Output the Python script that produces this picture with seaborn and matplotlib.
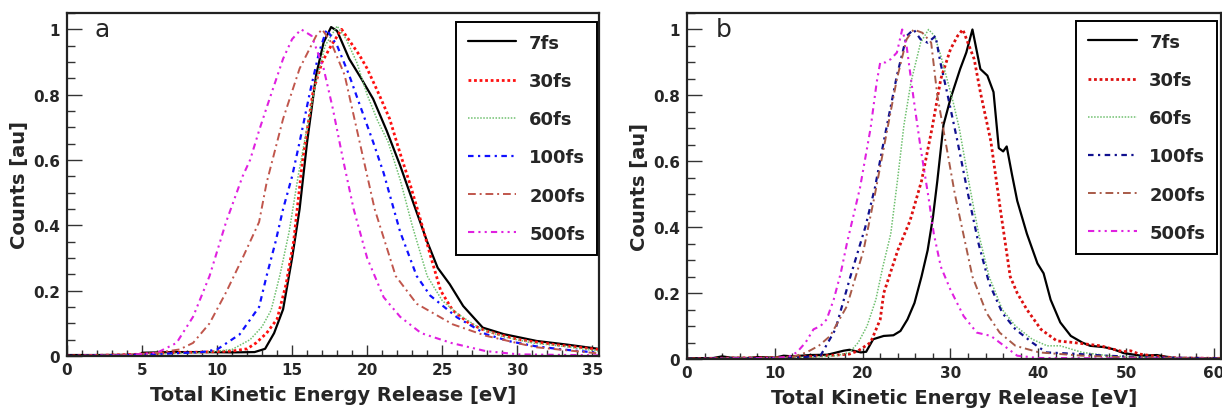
import numpy as np
import pandas as pd
import matplotlib
matplotlib.use("Agg")
import matplotlib.pyplot as plt
from matplotlib.ticker import MultipleLocator, FuncFormatter
import seaborn as sns

# ---------------- data ----------------
labels = ["7fs", "30fs", "60fs", "100fs", "200fs", "500fs"]

# panel a
a_7fs_x = [0, 2, 4.9, 5.0, 7, 9, 11, 12.5, 13.2, 13.8, 14.4, 15.0, 15.5, 16.0, 16.6, 17.1, 17.6, 18.0, 18.8, 19.6, 20.4, 21.3, 22.2, 23.3, 24.0, 24.7, 25.5, 26.4, 27.7, 29.1, 31.3, 33.3, 35.4]
a_7fs_y = [0.003, 0.003, 0.004, 0.010, 0.012, 0.012, 0.011, 0.012, 0.022, 0.07, 0.143, 0.30, 0.45, 0.655, 0.86, 0.96, 1.007, 0.995, 0.91, 0.85, 0.787, 0.69, 0.583, 0.44, 0.35, 0.27, 0.22, 0.153, 0.087, 0.067, 0.046, 0.035, 0.022]
a_30fs_x = [0, 4, 7, 9, 11, 12, 12.6, 13.3, 14.0, 14.6, 15.1, 15.7, 16.4, 17.0, 17.6, 18.3, 18.9, 19.5, 20.0, 20.8, 21.5, 22.2, 22.9, 23.6, 24.2, 24.9, 25.7, 26.8, 27.9, 30.1, 32.5, 35.4]
a_30fs_y = [0.0, 0.004, 0.01, 0.012, 0.015, 0.022, 0.04, 0.07, 0.113, 0.22, 0.35, 0.6, 0.81, 0.9, 0.95, 1.0, 0.96, 0.92, 0.88, 0.80, 0.726, 0.62, 0.52, 0.41, 0.31, 0.20, 0.14, 0.10, 0.077, 0.05, 0.035, 0.02]
a_60fs_x = [0, 4, 7, 9, 11, 12.2, 13.0, 13.6, 14.2, 14.8, 15.4, 16.0, 16.6, 17.2, 18.0, 18.6, 19.3, 20.0, 20.7, 21.4, 22.2, 23.0, 24.0, 25.0, 26.0, 27.5, 29.0, 31.0, 33.0, 35.4]
a_60fs_y = [0.0, 0.003, 0.008, 0.01, 0.02, 0.05, 0.09, 0.14, 0.25, 0.38, 0.55, 0.7, 0.84, 0.95, 1.01, 0.97, 0.9, 0.8, 0.72, 0.655, 0.54, 0.40, 0.245, 0.17, 0.13, 0.085, 0.06, 0.04, 0.03, 0.015]
a_100fs_x = [0, 4, 7, 9, 10, 11.5, 12.8, 13.3, 13.9, 14.4, 15.0, 15.5, 16.2, 16.8, 17.3, 18.0, 18.8, 19.5, 20.4, 21.1, 22.2, 23.3, 24.2, 26.0, 27.9, 29.5, 31.2, 33.0, 35.4]
a_100fs_y = [0.0, 0.003, 0.008, 0.012, 0.02, 0.066, 0.15, 0.245, 0.35, 0.45, 0.55, 0.655, 0.81, 0.93, 1.0, 0.95, 0.86, 0.77, 0.655, 0.56, 0.38, 0.245, 0.185, 0.118, 0.067, 0.045, 0.03, 0.02, 0.01]
a_200fs_x = [0, 4, 6, 7.5, 8.4, 9.5, 10.6, 11.7, 12.2, 12.8, 13.3, 14.4, 15.5, 16.6, 17.0, 17.6, 18.5, 19.5, 20.5, 21.9, 23.3, 25.7, 27.9, 31.2, 35.4]
a_200fs_y = [0.0, 0.003, 0.01, 0.02, 0.04, 0.1, 0.195, 0.3, 0.35, 0.41, 0.53, 0.726, 0.88, 0.98, 1.0, 0.96, 0.86, 0.655, 0.45, 0.245, 0.16, 0.097, 0.062, 0.027, 0.008]
a_500fs_x = [0, 4, 6, 7.3, 8.4, 9.5, 10.6, 11.7, 12.2, 12.8, 13.3, 14.4, 15.0, 15.6, 16.3, 17.1, 17.7, 18.4, 19.1, 20.0, 21.1, 22.2, 23.6, 25.6, 27.9, 30.1, 35.4]
a_500fs_y = [0.0, 0.002, 0.01, 0.04, 0.12, 0.245, 0.41, 0.55, 0.6, 0.69, 0.76, 0.91, 0.97, 1.0, 0.98, 0.88, 0.76, 0.6, 0.45, 0.3, 0.18, 0.12, 0.07, 0.04, 0.015, 0.005, 0.002]

# panel b
b_7fs_x = [0, 3, 4, 5, 7, 8, 10, 11, 12, 14, 16, 17.8, 18.5, 19.8, 20.4, 21.2, 22.4, 23.5, 24.3, 25.1, 25.9, 26.7, 27.4, 28.0, 28.5, 29.2, 30.0, 31.1, 31.8, 32.5, 33.4, 34.2, 34.9, 35.5, 36.0, 36.4, 37.0, 37.6, 38.7, 39.9, 40.6, 41.4, 42.5, 43.7, 45.0, 45.9, 47.5, 48.5, 49.7, 51.7, 53.5, 55.4, 58, 60.8]
b_7fs_y = [0.002, 0.003, 0.008, 0.004, 0.003, 0.006, 0.004, 0.01, 0.008, 0.012, 0.013, 0.025, 0.028, 0.02, 0.022, 0.06, 0.07, 0.072, 0.085, 0.12, 0.17, 0.25, 0.33, 0.43, 0.54, 0.71, 0.79, 0.88, 0.93, 1.0, 0.88, 0.86, 0.81, 0.64, 0.63, 0.645, 0.56, 0.48, 0.38, 0.29, 0.26, 0.18, 0.111, 0.07, 0.05, 0.04, 0.036, 0.03, 0.018, 0.01, 0.012, 0.003, 0.003, 0.002]
b_30fs_x = [0, 5, 10, 14, 17, 18.5, 19.5, 20.9, 22.0, 22.4, 24.0, 25.4, 26.7, 27.9, 28.9, 30.0, 30.8, 31.4, 32.7, 33.4, 34.6, 35.7, 36.8, 37.6, 38.7, 40.3, 42.1, 44.0, 47.1, 48.5, 49.7, 50.5, 51.5, 53.5, 56, 60.8]
b_30fs_y = [0.0, 0.003, 0.004, 0.008, 0.012, 0.015, 0.025, 0.05, 0.12, 0.2, 0.33, 0.42, 0.54, 0.70, 0.85, 0.94, 0.98, 1.0, 0.91, 0.81, 0.66, 0.45, 0.25, 0.2, 0.15, 0.09, 0.055, 0.05, 0.04, 0.03, 0.022, 0.025, 0.015, 0.008, 0.003, 0.002]
b_60fs_x = [0, 5, 10, 14, 17, 18.5, 19.5, 20.5, 21.5, 22.3, 23.2, 24.0, 24.7, 25.5, 26.6, 27.5, 28.2, 28.9, 29.6, 30.3, 31.0, 32.0, 33.2, 34.4, 35.9, 37.4, 39.3, 41.0, 42.5, 45, 48, 52, 60.8]
b_60fs_y = [0.0, 0.002, 0.004, 0.005, 0.01, 0.02, 0.05, 0.1, 0.18, 0.28, 0.38, 0.55, 0.71, 0.84, 0.96, 1.0, 0.98, 0.92, 0.85, 0.78, 0.70, 0.55, 0.38, 0.25, 0.15, 0.1, 0.06, 0.04, 0.04, 0.02, 0.01, 0.005, 0.002]
b_100fs_x = [0, 5, 10, 13, 15.2, 16.9, 18.6, 20.3, 21.4, 22.4, 23.9, 25.0, 25.8, 26.6, 27.4, 28.3, 28.85, 29.6, 30.8, 32.0, 33.2, 34.4, 35.9, 37.4, 39.3, 40.9, 44.0, 47.8, 52, 60.8]
b_100fs_y = [0.0, 0.002, 0.003, 0.005, 0.01, 0.09, 0.25, 0.40, 0.52, 0.66, 0.86, 0.98, 1.0, 0.97, 0.96, 0.98, 0.9, 0.81, 0.66, 0.5, 0.35, 0.23, 0.14, 0.09, 0.05, 0.02, 0.016, 0.01, 0.005, 0.002]
b_200fs_x = [0, 5, 10, 12, 13.6, 15, 16.3, 18.2, 20.1, 21.4, 22.4, 23.9, 25.0, 25.8, 26.8, 27.8, 28.5, 29.5, 30.5, 31.3, 32.5, 34.1, 35.6, 37.4, 40.1, 45, 50, 60.8]
b_200fs_y = [0.0, 0.002, 0.004, 0.006, 0.02, 0.04, 0.07, 0.16, 0.33, 0.5, 0.64, 0.85, 0.97, 1.0, 0.99, 0.96, 0.8, 0.65, 0.5, 0.4, 0.25, 0.14, 0.08, 0.04, 0.02, 0.01, 0.005, 0.002]
b_500fs_x = [0, 5, 10, 11.5, 12.5, 13.5, 14.4, 15.2, 15.9, 16.7, 17.5, 18.2, 19.7, 20.9, 21.6, 22.0, 22.6, 23.2, 23.9, 24.5, 25.0, 25.8, 26.6, 27.5, 28.1, 28.9, 30.0, 31.5, 33.0, 34.6, 36.1, 37.6, 40, 50, 60.8]
b_500fs_y = [0.0, 0.002, 0.003, 0.006, 0.02, 0.05, 0.09, 0.1, 0.12, 0.18, 0.26, 0.35, 0.52, 0.70, 0.84, 0.9, 0.9, 0.91, 0.93, 1.0, 0.95, 0.79, 0.64, 0.49, 0.38, 0.28, 0.21, 0.13, 0.08, 0.07, 0.04, 0.01, 0.003, 0.002, 0.001]

panel_a = [(a_7fs_x, a_7fs_y), (a_30fs_x, a_30fs_y), (a_60fs_x, a_60fs_y),
           (a_100fs_x, a_100fs_y), (a_200fs_x, a_200fs_y), (a_500fs_x, a_500fs_y)]
panel_b = [(b_7fs_x, b_7fs_y), (b_30fs_x, b_30fs_y), (b_60fs_x, b_60fs_y),
           (b_100fs_x, b_100fs_y), (b_200fs_x, b_200fs_y), (b_500fs_x, b_500fs_y)]

# ---------------- style ----------------
sns.set_theme(style="white")
plt.rcParams['font.family'] = ['DejaVu Sans']
plt.rcParams['font.weight'] = 'bold'

styles_a = [
    dict(color="black", lw=1.6, ls="-"),
    dict(color="#ff1010", lw=2.0, ls=(0, (1, 1))),
    dict(color="#6fc06f", lw=1.1, ls=(0, (1, 1))),
    dict(color="#1010ff", lw=1.6, ls=(0, (2.5, 2, 1, 2))),
    dict(color="#c0564c", lw=1.4, ls=(0, (4, 2, 1, 2))),
    dict(color="#e020e0", lw=1.5, ls=(0, (3, 2, 1, 2, 1, 2))),
]
styles_b = [
    dict(color="black", lw=1.6, ls="-"),
    dict(color="#dd1010", lw=2.0, ls=(0, (1, 1))),
    dict(color="#6fc06f", lw=1.1, ls=(0, (1, 1))),
    dict(color="#10108f", lw=1.6, ls=(0, (2.5, 2, 1, 2))),
    dict(color="#a85a48", lw=1.4, ls=(0, (4, 2, 1, 2))),
    dict(color="#e020e0", lw=1.5, ls=(0, (3, 2, 1, 2, 1, 2))),
]

W, H = 1222, 410
fig = plt.figure(figsize=(W / 100, H / 100), dpi=100)

def px_axes(l, t, r, b):
    return fig.add_axes([l / W, 1 - b / H, (r - l) / W, (b - t) / H])

ax_a = px_axes(67, 14, 599, 357)
ax_b = px_axes(687, 14, 1221, 360)

def draw(ax, data, styles, xlim, xmaj, xmin, letter, letter_x, leg_anchor):
    for (x, y), lab, st in zip(data, labels, styles):
        df = pd.DataFrame({"x": x, "y": y})
        sns.lineplot(data=df, x="x", y="y", ax=ax, estimator=None, sort=False,
                     color=st["color"], linewidth=st["lw"], linestyle=st["ls"], label=lab)
    ax.set_xlim(*xlim)
    ax.set_ylim(0, 1.05)
    ax.xaxis.set_major_locator(MultipleLocator(xmaj))
    ax.xaxis.set_minor_locator(MultipleLocator(xmin))
    ax.yaxis.set_major_locator(MultipleLocator(0.2))
    ax.yaxis.set_minor_locator(MultipleLocator(0.05))
    ax.yaxis.set_major_formatter(FuncFormatter(lambda v, p: "%g" % round(v, 2)))
    ax.xaxis.set_major_formatter(FuncFormatter(lambda v, p: "%g" % v))
    ax.tick_params(axis="y", which="major", direction="in", length=11, width=1.0,
                   labelsize=11, pad=5, left=True, right=False, color="#333333")
    ax.tick_params(axis="y", which="minor", direction="in", length=6, width=1.0,
                   left=True, right=False, color="#333333")
    ax.tick_params(axis="x", which="major", direction="in", length=8, width=1.0,
                   labelsize=11, pad=4, bottom=True, top=False, color="#333333")
    ax.tick_params(axis="x", which="minor", direction="in", length=4.5, width=1.0,
                   bottom=True, top=False, color="#333333")
    for s in ax.spines.values():
        s.set_visible(True)
        s.set_color("#222222")
        s.set_linewidth(1.6)
    ax.set_xlabel("Total Kinetic Energy Release [eV]", fontsize=14, fontweight="bold", labelpad=6)
    ax.set_ylabel("Counts [au]", fontsize=14, fontweight="bold", labelpad=3)
    ax.text(letter_x, 1.0, letter, fontsize=18, fontweight="normal", va="center", ha="left")
    leg = ax.legend(loc="upper right", bbox_to_anchor=leg_anchor, borderaxespad=0,
                    frameon=True, fancybox=False, framealpha=1, edgecolor="black",
                    prop={"size": 13, "weight": "bold"}, handlelength=2.7,
                    handletextpad=0.7, labelspacing=1.12, borderpad=0.65)
    leg.get_frame().set_linewidth(1.4)

draw(ax_a, panel_a, styles_a, (0, 35.45), 5, 1, "a", 1.8, (0.996, 0.974))
draw(ax_b, panel_b, styles_b, (0, 60.8), 10, 2, "b", 3.3, (0.9925, 0.977))

fig.savefig("out.png", dpi=100)
